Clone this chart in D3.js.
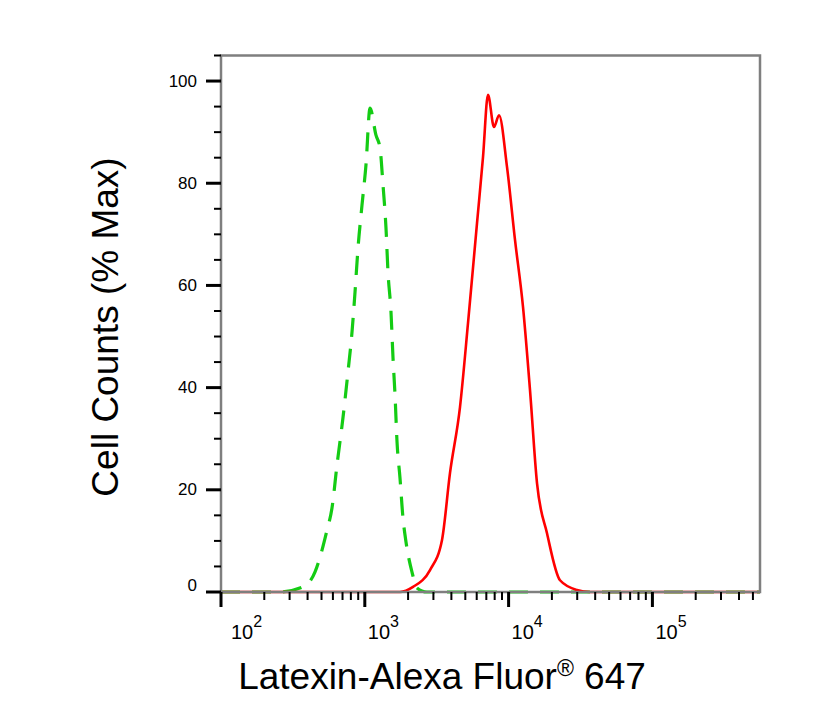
<!DOCTYPE html>
<html>
<head>
<meta charset="utf-8">
<script src="https://cdn.jsdelivr.net/npm/d3@7"></script>
<style>
	body { margin: 0; background: #fff; }
	svg text { font-family: Arial, "Liberation Sans", sans-serif; fill: #000; }
</style>
</head>
<body>
<div id="chart"></div>
<script>
// histogram: fluorescence (log) vs % of max
var isotypeX = [100, 257, 372, 450, 504, 546, 591, 641, 705, 764, 815, 855, 897, 956, 1019, 1087,
	1196, 1276, 1339, 1404, 1450, 1521, 1571, 1622, 1675, 1757, 1843, 1934, 2129, 2307, 2707, 560000];
var isotypeY = [0, 0, 1.0, 3.9, 8.2, 12.1, 16.4, 24.9, 34.1, 43.1, 50.9, 58.7, 67.3, 75.7, 83.6, 94.7,
	89.4, 86.9, 79.6, 71.2, 62.6, 54.8, 45.8, 38.6, 29.4, 22.3, 14.5, 9.8, 3.9, 0.8, 0, 0];

var latexinX = [100, 1757, 2164, 2841, 3443, 3913, 4592, 5220, 6030, 6637, 7190, 7915, 8576, 9747,
	11079, 12593, 14087, 15758, 18493, 22777, 29901, 36824, 560000];
var latexinY = [0, 0, 1.0, 4.3, 10.2, 23.3, 36.2, 52.6, 72.2, 85.1, 97.3, 91.0, 93.3, 83.2,
	68.9, 55.8, 39.5, 21.3, 11.5, 2.3, 0.4, 0, 0];

var yMajorTicks = [0, 20, 40, 60, 80, 100];
var yMinorTicks = [5, 10, 15, 25, 30, 35, 45, 50, 55, 65, 70, 75, 85, 90, 95, 105];
var xDecades = [2, 3, 4, 5];

var svgWidth = 831, svgHeight = 714;
var margin = {left: 221, top: 55.5, right: 71, bottom: 122};
var width = svgWidth - margin.left - margin.right;
var height = svgHeight - margin.top - margin.bottom;

var svg = d3.select("#chart").append("svg")
	.attr("width", svgWidth)
	.attr("height", svgHeight);

var g = svg.append("g")
	.attr("transform", "translate(" + margin.left + "," + margin.top + ")");

var x = d3.scaleLog().domain([100, 560000]).range([0, width]);
var y = d3.scaleLinear().domain([0, 105]).range([height, 0]);

// minor ticks 2..9 of every decade that falls inside the domain
var xMinorTicks = [];
xDecades.forEach(function(p) {
	for (var k = 2; k <= 9; k++) {
		var v = k * Math.pow(10, p);
		if (v <= x.domain()[1]) xMinorTicks.push(v);
	}
});

// curves, green isotype first so red sits on top
var line = d3.line().curve(d3.curveMonotoneX);

g.append("path")
	.attr("d", line(isotypeX.map(function(d, i) { return [x(d), y(isotypeY[i])]; })))
	.attr("fill", "none")
	.attr("stroke", "#14cc14")
	.attr("stroke-width", 3.2)
	.attr("stroke-dasharray", "19,12");

g.append("path")
	.attr("d", line(latexinX.map(function(d, i) { return [x(d), y(latexinY[i])]; })))
	.attr("fill", "none")
	.attr("stroke", "#ff0000")
	.attr("stroke-width", 2.6);

// frame
g.append("rect")
	.attr("x", 0).attr("y", 0)
	.attr("width", width).attr("height", height)
	.attr("fill", "none")
	.attr("stroke", "#7f7f7f")
	.attr("stroke-width", 2.5);

// y ticks
g.selectAll(".ymajor").data(yMajorTicks).enter().append("line")
	.attr("x1", -15).attr("x2", 0)
	.attr("y1", function(d) { return y(d); }).attr("y2", function(d) { return y(d); })
	.attr("stroke", "#000").attr("stroke-width", 3);

g.selectAll(".yminor").data(yMinorTicks).enter().append("line")
	.attr("x1", -7).attr("x2", 0)
	.attr("y1", function(d) { return y(d); }).attr("y2", function(d) { return y(d); })
	.attr("stroke", "#000").attr("stroke-width", 2);

g.selectAll(".ylabel").data(yMajorTicks).enter().append("text")
	.attr("x", -24)
	.attr("y", function(d) { return d === 0 ? y(d) - 7 : y(d); }) // zero label sits a bit higher
	.attr("text-anchor", "end")
	.attr("dominant-baseline", "central")
	.style("font-size", "17px")
	.text(function(d) { return d; });

// x ticks
g.selectAll(".xmajor").data(xDecades).enter().append("line")
	.attr("x1", function(d) { return x(Math.pow(10, d)); })
	.attr("x2", function(d) { return x(Math.pow(10, d)); })
	.attr("y1", height).attr("y2", height + 15)
	.attr("stroke", "#000").attr("stroke-width", 3);

g.selectAll(".xminor").data(xMinorTicks).enter().append("line")
	.attr("x1", function(d) { return x(d); }).attr("x2", function(d) { return x(d); })
	.attr("y1", height).attr("y2", height + 8)
	.attr("stroke", "#000").attr("stroke-width", 2);

var xl = g.selectAll(".xlabel").data(xDecades).enter().append("text")
	.attr("x", function(d, i) { return x(Math.pow(10, d)) + (i === 0 ? 10 : 3); })
	.attr("y", height + 47)
	.style("font-size", "20px");
xl.append("tspan").text("10");
xl.append("tspan")
	.attr("dy", -12)
	.style("font-size", "16px")
	.text(function(d) { return d; });

// axis titles
svg.append("text")
	.attr("x", 442)
	.attr("y", 689)
	.attr("text-anchor", "middle")
	.style("font-size", "37px")
	.call(function(t) {
		t.append("tspan").text("Latexin-Alexa Fluor");
		t.append("tspan").attr("dy", -13).style("font-size", "23px").text("®");
		t.append("tspan").attr("dy", 13).text(" 647");
	});

svg.append("text")
	.attr("transform", "translate(118,327) rotate(-90)")
	.attr("text-anchor", "middle")
	.style("font-size", "37px")
	.text("Cell Counts (% Max)");
</script>
</body>
</html>
